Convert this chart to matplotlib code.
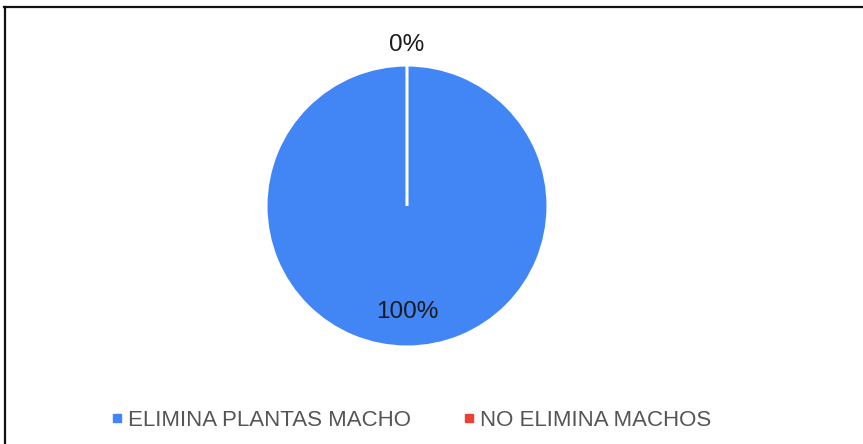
"""
Pie chart — share of growers that remove male plants.
"""

import matplotlib
matplotlib.use("Agg")
import matplotlib.pyplot as plt
from matplotlib.lines import Line2D
import numpy as np

categories = ["ELIMINA PLANTAS MACHO", "NO ELIMINA MACHOS"]
shares = [100, 0]
colors = ["#4285F4", "#EA4335"]

plt.rcParams["font.family"] = ["Liberation Sans", "DejaVu Sans"]

fig = plt.figure(figsize=(8.63, 4.44), dpi=100)
ax = fig.add_axes([0.3082, 0.2185, 0.3268, 0.6351])

wedges, _ = ax.pie(
    shares,
    colors=colors,
    startangle=90,
    counterclock=False,
    radius=1.0,
    wedgeprops=dict(edgecolor="white", linewidth=2.2),
)
ax.set_xlim(-1, 1)
ax.set_ylim(-1, 1)
ax.set_aspect("equal")
ax.axis("off")

# percentage labels: inside for real slices, just outside for empty ones
total = sum(shares)
for w, val in zip(wedges, shares):
    mid = np.deg2rad((w.theta1 + w.theta2) / 2)
    dist = 0.75 if val > 0 else 1.145
    ax.text(dist * np.cos(mid), dist * np.sin(mid), f"{val / total:.0%}",
            ha="center", va="center", fontsize=17.5, color="#1a1a1a",
            clip_on=False)

handles = [Line2D([], [], marker="s", linestyle="none", markersize=5.5,
                  markerfacecolor=c, markeredgecolor=c) for c in colors]
fig.legend(handles, categories, loc="center", ncol=2,
           bbox_to_anchor=(0.477, 0.053), frameon=False,
           fontsize=16, labelcolor="#555555",
           handlelength=0.4, handletextpad=0.3, columnspacing=2.4)

# outer border (top and left edges)
fig.add_artist(Line2D([0.0046, 1.0], [0.9842, 0.9842], color="#111111",
                      linewidth=1.6, transform=fig.transFigure))
fig.add_artist(Line2D([0.0058, 0.0058], [0.0, 0.9842], color="#111111",
                      linewidth=1.6, transform=fig.transFigure))

fig.savefig("out.png", dpi=100, facecolor="white")
plt.close(fig)
